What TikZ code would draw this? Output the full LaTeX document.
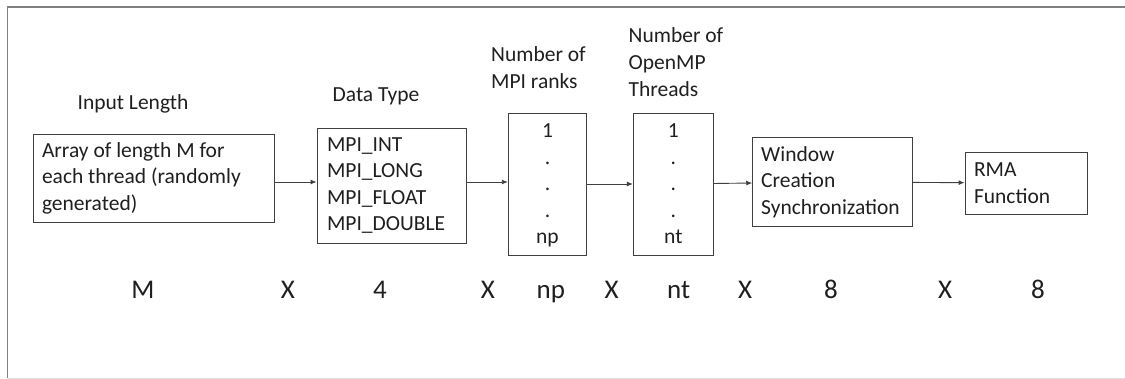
\documentclass[tikz,border=0pt]{standalone}
\usepackage{fontspec}
\setmainfont{Carlito}
\usetikzlibrary{arrows.meta}
\definecolor{txt}{gray}{0.12}
\definecolor{edge}{gray}{0.25}
\definecolor{frm}{gray}{0.5}
\definecolor{frmlight}{gray}{0.88}
\begin{document}
\begin{tikzpicture}[x=1pt,y=-1pt,
  every node/.style={text=txt},
  boxnode/.style={draw=edge, line width=0.9pt, font=\fontsize{21.5pt}{26.5pt}\selectfont, align=flush left, inner ysep=0pt},
  colnode/.style={draw=edge, line width=0.9pt, font=\fontsize{21.5pt}{26.5pt}\selectfont, align=center, inner sep=0pt, text depth=0pt},
  lbl/.style={font=\fontsize{21.5pt}{27pt}\selectfont, inner sep=0pt, align=flush left},
  factor/.style={font=\fontsize{27pt}{32pt}\selectfont, inner sep=0pt, anchor=base},
  arr/.style={draw=edge, line width=0.9pt, -{Latex[length=6pt,width=5pt]}}]
\useasboundingbox (0,0) rectangle (1125,379);
\draw[frm, line width=1.3pt] (7.5,378) -- (7.5,7) -- (1125,7);
\draw[frmlight, line width=1pt] (7.5,378.5) -- (1125,378.5);

\node[boxnode, text width=223.5pt, inner xsep=9pt, minimum height=88pt] (arr) at (153.75,178) {Array of length M for\\each thread (randomly\\generated)};
\node[boxnode, text width=129pt, inner xsep=10pt, minimum height=115pt] (dt) at (391.5,185.5) {MPI\_INT\\MPI\_LONG\\MPI\_FLOAT\\MPI\_DOUBLE};
\node[colnode, minimum width=78.5pt, minimum height=142pt] (np) at (547.5,184) {1\\.\\.\\.\\np};
\node[colnode, minimum width=80pt, minimum height=142pt] (nt) at (673.3,184) {1\\.\\.\\.\\nt};
\node[boxnode, text width=143pt, inner xsep=8.5pt, minimum height=89.4pt] (win) at (832.7,182) {Window\\Creation\\Synchronization};
\node[boxnode, text width=104.7pt, inner xsep=9pt, minimum height=62pt] (rma) at (1026.35,183) {RMA\\Function};

\coordinate (ay) at (0,182);
\draw[arr] (arr.east |- ay) -- (dt.west |- ay);
\draw[arr] (dt.east |- ay) -- (np.west |- ay);
\draw[arr] (np) -- (nt);
\draw[arr] (nt) -- (win);
\draw[arr] (win) -- (rma);

\node[lbl, anchor=base] (l1) at (133,109.3) {Input Length};
\node[lbl, anchor=base] (l2) at (376,101.7) {Data Type};
\node[lbl, anchor=west] (l3) at (491,67.5) {Number of\\MPI ranks};
\node[lbl, anchor=west] (l4) at (628.5,62.5) {Number of\\OpenMP\\Threads};

\node[factor] (f1) at (143,299) {M};
\node[factor] (x1) at (288,299) {X};
\node[factor] (f2) at (380,299) {4};
\node[factor] (x2) at (488,299) {X};
\node[factor] (f3) at (550.8,299) {np};
\node[factor] (x3) at (611.6,299) {X};
\node[factor] (f4) at (678.7,299) {nt};
\node[factor] (x4) at (745,299) {X};
\node[factor] (f5) at (831,299) {8};
\node[factor] (x5) at (945,299) {X};
\node[factor] (f6) at (1038,299) {8};
\end{tikzpicture}
\end{document}
